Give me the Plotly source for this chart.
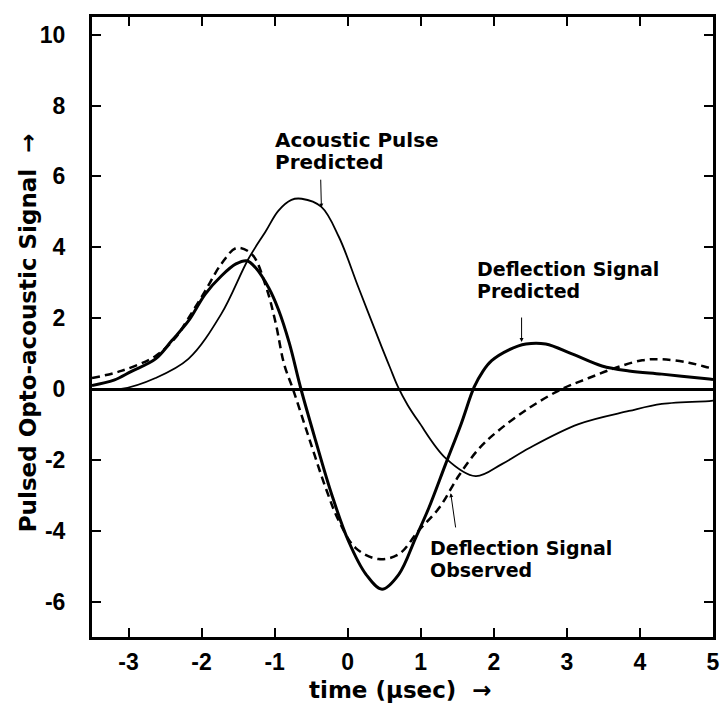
import plotly.graph_objects as go

# ---- data ----
acoustic_x = [-3.5, -3.1, -2.63, -2.18, -1.73, -1.36, -1.12, -0.95, -0.77, -0.63, -0.36, -0.12,
              0.15, 0.47, 0.58, 0.69, 0.82, 0.97, 1.34, 1.75, 2.11, 2.48, 3.16, 3.85, 4.3, 4.95, 5.0]
acoustic_y = [0.0, 0.0, 0.31, 0.85, 2.12, 3.67, 4.46, 5.03, 5.34, 5.37, 5.14, 4.29,
              2.85, 1.16, 0.6, 0.05, -0.45, -0.92, -1.95, -2.46, -2.12, -1.67, -0.99, -0.62, -0.42, -0.34, -0.33]

defl_pred_x = [-3.5, -3.2, -2.96, -2.63, -2.41, -2.18, -1.95, -1.73, -1.53, -1.38, -1.26, -1.08,
               -0.95, -0.8, -0.64, -0.44, -0.22, 0.01, 0.25, 0.47, 0.70, 0.93, 1.11, 1.34, 1.55,
               1.73, 1.85, 1.97, 2.2, 2.44, 2.71, 3.07, 3.48, 3.85, 4.3, 4.95, 5.0]
defl_pred_y = [0.1, 0.25, 0.5, 0.85, 1.36, 1.92, 2.68, 3.19, 3.53, 3.62, 3.42, 2.85,
               2.25, 1.3, 0.0, -1.45, -2.97, -4.29, -5.23, -5.65, -5.23, -4.2, -3.36, -2.12, -1.0,
               0.05, 0.5, 0.8, 1.1, 1.27, 1.27, 0.99, 0.65, 0.51, 0.42, 0.28, 0.27]

defl_obs_x = [-3.5, -3.1, -2.63, -2.36, -2.18, -1.95, -1.73, -1.52, -1.31, -1.12, -0.99, -0.87,
              -0.75, -0.53, -0.3, -0.12, 0.11, 0.42, 0.70, 0.97, 1.25, 1.52, 1.79, 2.03, 2.48,
              2.93, 3.3, 3.67, 4.03, 4.3, 4.67, 4.95, 5.0]
defl_obs_y = [0.31, 0.51, 0.93, 1.44, 2.0, 2.77, 3.53, 3.98, 3.8, 2.9, 1.9, 0.7,
              0.0, -1.38, -2.8, -3.73, -4.49, -4.8, -4.66, -4.0, -3.36, -2.45, -1.7, -1.23, -0.54,
              0.0, 0.31, 0.6, 0.81, 0.84, 0.74, 0.6, 0.58]

x_tick_vals = [-3, -2, -1, 0, 1, 2, 3, 4, 5]
x_tick_labels = ["-3", "-2", "-1", "0", "1", "2", "3", "4", "5"]
y_tick_vals = [-6, -4, -2, 0, 2, 4, 6, 8, 10]
y_tick_labels = ["-6", "-4", "-2", "0", "2", "4", "6", "8", "10"]

x_title = "time (\u03bcsec)\u00a0 \u2192"
y_title = "Pulsed Opto-acoustic Signal\u00a0 \u2192"

# ---- figure ----
fig = go.Figure()
fig.add_trace(go.Scatter(x=acoustic_x, y=acoustic_y, mode="lines",
                         line=dict(color="black", width=1.8, shape="spline", smoothing=1.0),
                         name="Acoustic Pulse Predicted"))
fig.add_trace(go.Scatter(x=defl_pred_x, y=defl_pred_y, mode="lines",
                         line=dict(color="black", width=3, shape="spline", smoothing=1.0),
                         name="Deflection Signal Predicted"))
fig.add_trace(go.Scatter(x=defl_obs_x, y=defl_obs_y, mode="lines",
                         line=dict(color="black", width=2.5, dash="8px,5px", shape="spline", smoothing=1.0),
                         name="Deflection Signal Observed"))

tick_font = dict(family="Liberation Sans, Arial, sans-serif", size=23, color="black", weight="bold")
label_font = dict(family="DejaVu Sans, sans-serif", size=19, color="black", weight="bold")
big_label_font = dict(family="DejaVu Sans, sans-serif", size=20, color="black", weight="bold")
title_font = dict(family="DejaVu Sans, sans-serif", size=23, color="black", weight="bold")

fig.update_layout(
    width=723, height=709,
    margin=dict(l=92, r=10, t=17, b=72, autoexpand=False),
    paper_bgcolor="white", plot_bgcolor="white",
    showlegend=False,
    xaxis=dict(range=[-3.5, 5], tickmode="array", tickvals=x_tick_vals, ticktext=x_tick_labels,
               ticks="inside", ticklen=9, tickwidth=2, tickcolor="black",
               showline=True, linewidth=3, linecolor="black", mirror="ticks",
               showgrid=False, zeroline=False, tickfont=tick_font, ticklabelstandoff=2,
               automargin=False),
    yaxis=dict(range=[-7, 10.5], tickmode="array", tickvals=y_tick_vals, ticktext=y_tick_labels,
               ticks="inside", ticklen=9, tickwidth=2, tickcolor="black",
               showline=True, linewidth=3, linecolor="black", mirror="ticks",
               showgrid=False, zeroline=True, zerolinewidth=3, zerolinecolor="black",
               tickfont=tick_font, ticklabelstandoff=19, automargin=False),
)

annotations = [
    dict(text=x_title, xref="paper", yref="paper", x=0.496, y=-0.0855,
         xanchor="center", yanchor="middle", showarrow=False, font=title_font),
    dict(text=y_title, xref="paper", yref="paper", x=-0.103, y=0.49, textangle=-90,
         xanchor="center", yanchor="middle", showarrow=False, font=title_font),
    # curve labels
    dict(text="Acoustic Pulse", x=-1.02, y=7.02, xanchor="left", yanchor="middle", showarrow=False,
         font=big_label_font),
    dict(text="Predicted", x=-1.02, y=6.42, xanchor="left", yanchor="middle", showarrow=False,
         font=big_label_font),
    dict(text="Deflection Signal", x=1.74, y=3.39, xanchor="left", yanchor="middle", showarrow=False, font=label_font),
    dict(text="Predicted", x=1.74, y=2.77, xanchor="left", yanchor="middle", showarrow=False, font=label_font),
    dict(text="Deflection Signal", x=1.10, y=-4.5, xanchor="left", yanchor="middle", showarrow=False, font=label_font),
    dict(text="Observed", x=1.10, y=-5.12, xanchor="left", yanchor="middle", showarrow=False, font=label_font),
    # arrows
    dict(text="", x=-0.36, y=5.12, ax=-0.37, ay=5.95, axref="x", ayref="y",
         showarrow=True, arrowhead=2, arrowsize=0.8, arrowwidth=1, arrowcolor="black"),
    dict(text="", x=2.38, y=1.33, ax=2.38, ay=2.06, axref="x", ayref="y",
         showarrow=True, arrowhead=2, arrowsize=0.8, arrowwidth=1, arrowcolor="black"),
    dict(text="", x=1.41, y=-2.94, ax=1.48, ay=-3.95, axref="x", ayref="y",
         showarrow=True, arrowhead=2, arrowsize=0.8, arrowwidth=1, arrowcolor="black"),
]
fig.update_layout(annotations=annotations)

# remove the browser's default 8px body margin so the figure fills the window exactly
fig.write_html("out.html",
               config={"displayModeBar": False},
               post_script="document.body.style.margin='0px';document.body.style.overflow='hidden';")
